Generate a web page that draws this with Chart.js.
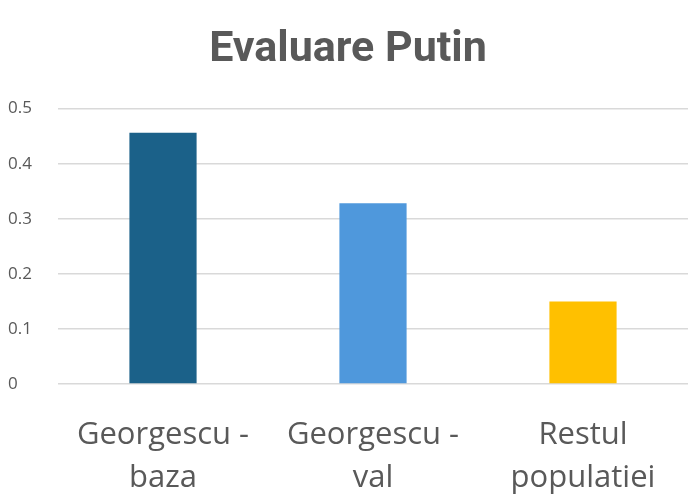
<!DOCTYPE html>
<html>
<head>
<meta charset="utf-8">
<script src="https://cdn.jsdelivr.net/npm/chart.js@4"></script>
<style>
  html, body { margin: 0; padding: 0; background: #ffffff; }
  #wrap { width: 700px; height: 501px; }
</style>
</head>
<body>
<div id="wrap"><canvas id="putinChart"></canvas></div>
<script>
// chart data
const categories = [['Georgescu -', 'baza'], ['Georgescu -', 'val'], ['Restul', 'populatiei']];
const values = [0.456, 0.328, 0.15];
const barColors = ['#1b6189', '#4f98dc', '#ffc000'];
const yTicks = [0, 0.1, 0.2, 0.3, 0.4, 0.5];

const textColor = '#595959';

function setupChart() {
    const ctx = document.getElementById('putinChart').getContext('2d');

    new Chart(ctx, {
        type: 'bar',
        data: {
            labels: categories,
            datasets: [{
                data: values,
                backgroundColor: barColors,
                borderWidth: 0,
                barPercentage: 0.32,
                categoryPercentage: 1
            }]
        },
        options: {
            responsive: true,
            maintainAspectRatio: false,
            animation: false,
            layout: { padding: { left: 8, right: 12, top: 16, bottom: 0 } },
            plugins: {
                legend: { display: false },
                tooltip: { enabled: false },
                title: {
                    display: true,
                    text: 'Evaluare Putin',
                    color: textColor,
                    font: { family: "'Liberation Sans Narrow', 'Roboto', sans-serif", size: 43, weight: 'bold' },
                    padding: { top: 8, bottom: 33 }
                }
            },
            scales: {
                x: {
                    grid: { display: false },
                    border: { display: false },
                    // fixed axis box, long labels should not squeeze the plot
                    afterFit: function(scale) {
                        scale.paddingLeft = 0;
                        scale.paddingRight = 0;
                        scale.height = 117;
                    },
                    ticks: {
                        color: textColor,
                        font: { family: "'Open Sans', 'Liberation Sans', sans-serif", size: 31, lineHeight: 1.38 },
                        padding: 22,
                        maxRotation: 0
                    }
                },
                y: {
                    min: 0,
                    max: 0.5,
                    afterBuildTicks: function(axis) {
                        axis.ticks = yTicks.map(v => ({ value: v }));
                    },
                    afterFit: function(scale) {
                        scale.width = 50;
                    },
                    grid: { color: '#d9d9d9', lineWidth: 1.5, drawTicks: false },
                    border: { display: false },
                    ticks: {
                        color: textColor,
                        font: { family: "'Open Sans', 'Liberation Sans', sans-serif", size: 17 },
                        padding: 24,
                        crossAlign: 'far',
                        callback: function(v) { return String(v); }
                    }
                }
            }
        }
    });
}

setupChart();
</script>
</body>
</html>
